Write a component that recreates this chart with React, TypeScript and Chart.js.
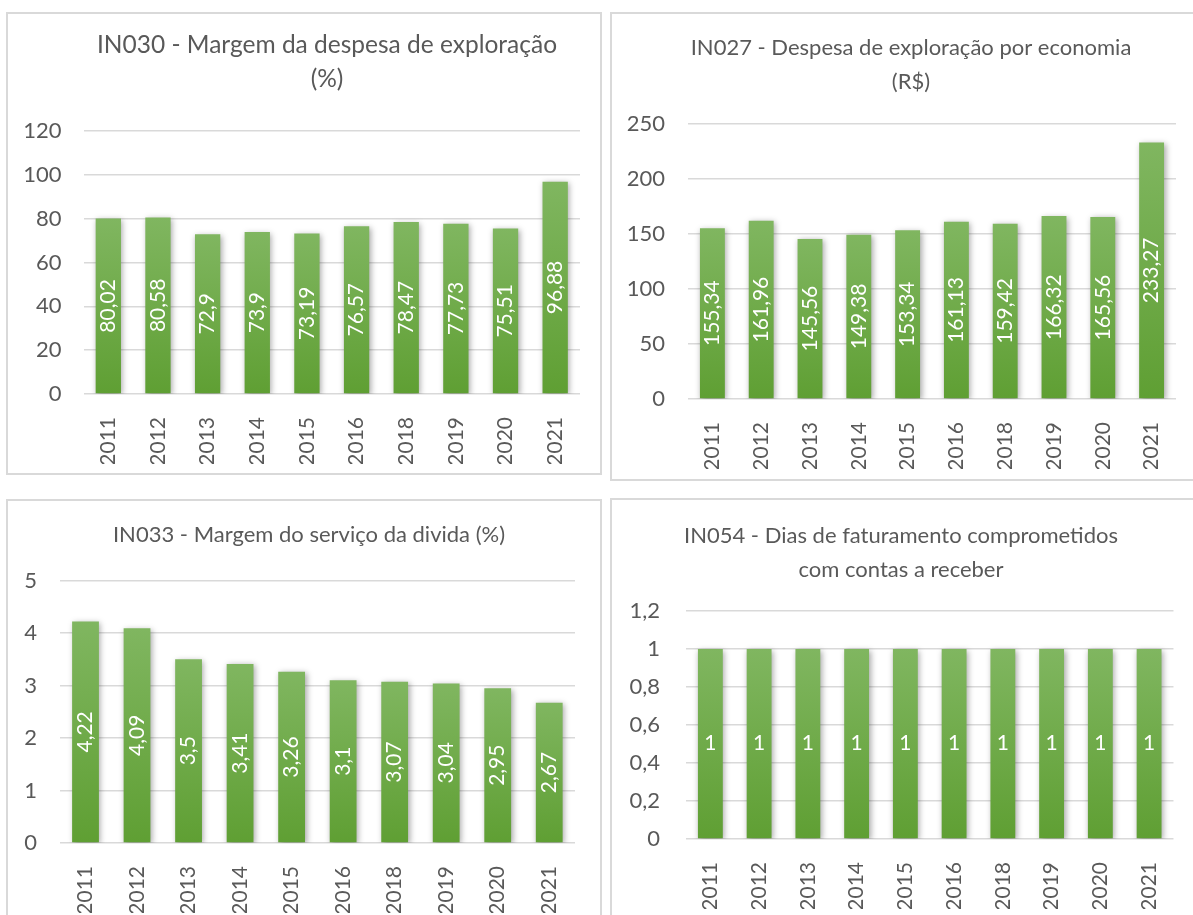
import React, { useEffect, useRef } from 'react';
import { Chart, registerables } from 'chart.js';

Chart.register(...registerables);

// ---------- DATA ----------
const years = ['2011', '2012', '2013', '2014', '2015', '2016', '2018', '2019', '2020', '2021'];

const in030Title = ['IN030 - Margem da despesa de exploração', '(%)'];
const in030Values = [80.02, 80.58, 72.9, 73.9, 73.19, 76.57, 78.47, 77.73, 75.51, 96.88];
const in030Axis = { max: 120, step: 20 };

const in027Title = ['IN027 - Despesa de exploração por economia', '(R$)'];
const in027Values = [155.34, 161.96, 145.56, 149.38, 153.34, 161.13, 159.42, 166.32, 165.56, 233.27];
const in027Axis = { max: 250, step: 50 };

const in033Title = ['IN033 - Margem do serviço da divida (%)'];
const in033Values = [4.22, 4.09, 3.5, 3.41, 3.26, 3.1, 3.07, 3.04, 2.95, 2.67];
const in033Axis = { max: 5, step: 1 };

const in054Title = ['IN054 - Dias de faturamento comprometidos', 'com contas a receber'];
const in054Values = [1, 1, 1, 1, 1, 1, 1, 1, 1, 1];
const in054Axis = { max: 1.2, step: 0.2 };

// ---------- STYLE ----------
const FONT = 'Lato, "Open Sans", sans-serif';
const TEXT = '#595959';
const GRID = '#d9d9d9';
const BAR_TOP = '#80b660';
const BAR_BOTTOM = '#5f9f33';

const fmt = (n: number) => String(Math.round(n * 1000) / 1000).replace('.', ',');

type Spec = {
  title: string[];
  values: number[];
  axis: { max: number; step: number };
  rotateLabels: boolean;
  panel: { left: number; top: number; width: number; height: number };
  canvas: { left: number; top: number; width: number; height: number };
  yAxisW: number;
  rightW: number;
  titleSize: number;
  lineH: number;
  padTop: number;
  padBottom: number;
  yPad: number;
  xPad: number;
  xAxisH: number;
  barPct: number;
};

const specs: Spec[] = [
  {
    title: in030Title, values: in030Values, axis: in030Axis, rotateLabels: true,
    panel: { left: 6, top: 12, width: 596, height: 463 },
    canvas: { left: 8, top: 14, width: 638, height: 450 },
    yAxisW: 75.5, rightW: 66, titleSize: 24.5, lineH: 34, padTop: 14, padBottom: 35,
    yPad: 22, xPad: 15, xAxisH: 70, barPct: 0.51,
  },
  {
    title: in027Title, values: in027Values, axis: in027Axis, rotateLabels: true,
    panel: { left: 610, top: 12, width: 600, height: 469 },
    canvas: { left: 612, top: 14, width: 598, height: 455 },
    yAxisW: 76, rightW: 34, titleSize: 22, lineH: 34, padTop: 17, padBottom: 25,
    yPad: 23, xPad: 15, xAxisH: 70, barPct: 0.51,
  },
  {
    title: in033Title, values: in033Values, axis: in033Axis, rotateLabels: true,
    panel: { left: 6, top: 499, width: 596, height: 440 },
    canvas: { left: 8, top: 501, width: 602, height: 412 },
    yAxisW: 51.75, rightW: 35, titleSize: 22, lineH: 34, padTop: 17, padBottom: 28.5,
    yPad: 22.75, xPad: 15, xAxisH: 70, barPct: 0.52,
  },
  {
    title: in054Title, values: in054Values, axis: in054Axis, rotateLabels: false,
    panel: { left: 610, top: 498, width: 600, height: 440 },
    canvas: { left: 612, top: 500, width: 578, height: 409 },
    yAxisW: 74, rightW: 14, titleSize: 22, lineH: 34, padTop: 19, padBottom: 24,
    yPad: 26, xPad: 15, xAxisH: 70, barPct: 0.51,
  },
];

function BarPanel({ spec }: { spec: Spec }) {
  const ref = useRef<HTMLCanvasElement | null>(null);

  useEffect(() => {
    const canvas = ref.current;
    if (!canvas) return;

    const shadowPlugin = {
      id: 'barShadow',
      beforeDatasetsDraw(chart: any) {
        const c = chart.ctx;
        c.save();
        c.shadowColor = 'rgba(0,0,0,0.35)';
        c.shadowBlur = 6;
        c.shadowOffsetX = 1.5;
        c.shadowOffsetY = 1.5;
      },
      afterDatasetsDraw(chart: any) {
        chart.ctx.restore();
      },
    };

    const labelPlugin = {
      id: 'barLabels',
      afterDatasetsDraw(chart: any) {
        const c = chart.ctx;
        const meta = chart.getDatasetMeta(0);
        meta.data.forEach((el: any, i: number) => {
          const v = chart.data.datasets[0].data[i] as number;
          const yc = (el.y + el.base) / 2;
          c.save();
          c.translate(el.x, yc);
          if (spec.rotateLabels) c.rotate(-Math.PI / 2);
          c.fillStyle = '#ffffff';
          c.font = `21px ${FONT}`;
          c.textAlign = 'center';
          c.textBaseline = 'middle';
          c.fillText(fmt(v), 0, 0);
          c.restore();
        });
      },
    };

    const chart = new Chart(canvas, {
      type: 'bar',
      data: {
        labels: years,
        datasets: [
          {
            data: spec.values,
            backgroundColor: (ctx: any) => {
              if (ctx.type !== 'data') return BAR_BOTTOM;
              const y = ctx.chart.scales.y;
              if (!y) return BAR_BOTTOM;
              const top = y.getPixelForValue(ctx.raw);
              const bottom = y.getPixelForValue(0);
              if (!isFinite(top) || !isFinite(bottom) || top === bottom) return BAR_BOTTOM;
              const g = ctx.chart.ctx.createLinearGradient(0, top, 0, bottom);
              g.addColorStop(0, BAR_TOP);
              g.addColorStop(1, BAR_BOTTOM);
              return g;
            },
            borderWidth: 0,
            barPercentage: spec.barPct,
            categoryPercentage: 1,
          },
        ],
      },
      options: {
        responsive: false,
        animation: false,
        events: [],
        layout: { padding: 0 },
        plugins: {
          legend: { display: false },
          tooltip: { enabled: false },
          title: {
            display: true,
            text: spec.title,
            color: TEXT,
            font: { family: FONT, size: spec.titleSize, weight: 'normal', lineHeight: spec.lineH / spec.titleSize },
            padding: { top: spec.padTop, bottom: spec.padBottom },
          },
        },
        scales: {
          x: {
            grid: { display: false },
            border: { display: false },
            ticks: {
              color: TEXT,
              font: { family: FONT, size: 21 },
              minRotation: 90,
              maxRotation: 90,
              autoSkip: false,
              padding: spec.xPad,
            },
            afterFit: (s: any) => { s.height = spec.xAxisH; },
          },
          y: {
            min: 0,
            max: spec.axis.max,
            grid: { color: GRID, lineWidth: 1.5, drawTicks: false },
            border: { display: false },
            ticks: {
              stepSize: spec.axis.step,
              color: TEXT,
              font: { family: FONT, size: 22 },
              padding: spec.yPad,
              callback: (v: any) => fmt(Number(v)),
            },
            afterFit: (s: any) => { s.width = spec.yAxisW; },
          },
          yRight: {
            position: 'right',
            display: true,
            grid: { display: false },
            border: { display: false },
            ticks: { display: false },
            afterFit: (s: any) => { s.width = spec.rightW; },
          },
        },
      } as any,
      plugins: [shadowPlugin, labelPlugin],
    });

    return () => chart.destroy();
  }, [spec]);

  return (
    <canvas
      ref={ref}
      width={spec.canvas.width}
      height={spec.canvas.height}
      style={{
        position: 'absolute',
        left: spec.canvas.left,
        top: spec.canvas.top,
        width: spec.canvas.width,
        height: spec.canvas.height,
      }}
    />
  );
}

export default function App() {
  return (
    <div
      style={{
        position: 'absolute',
        left: 0,
        top: 0,
        width: 1193,
        height: 915,
        overflow: 'hidden',
        background: '#ffffff',
      }}
    >
      {specs.map((s, i) => (
        <div
          key={'p' + i}
          style={{
            position: 'absolute',
            left: s.panel.left,
            top: s.panel.top,
            width: s.panel.width,
            height: s.panel.height,
            border: '2px solid #d9d9d9',
            boxSizing: 'border-box',
          }}
        />
      ))}
      {specs.map((s, i) => (
        <BarPanel key={'c' + i} spec={s} />
      ))}
    </div>
  );
}
